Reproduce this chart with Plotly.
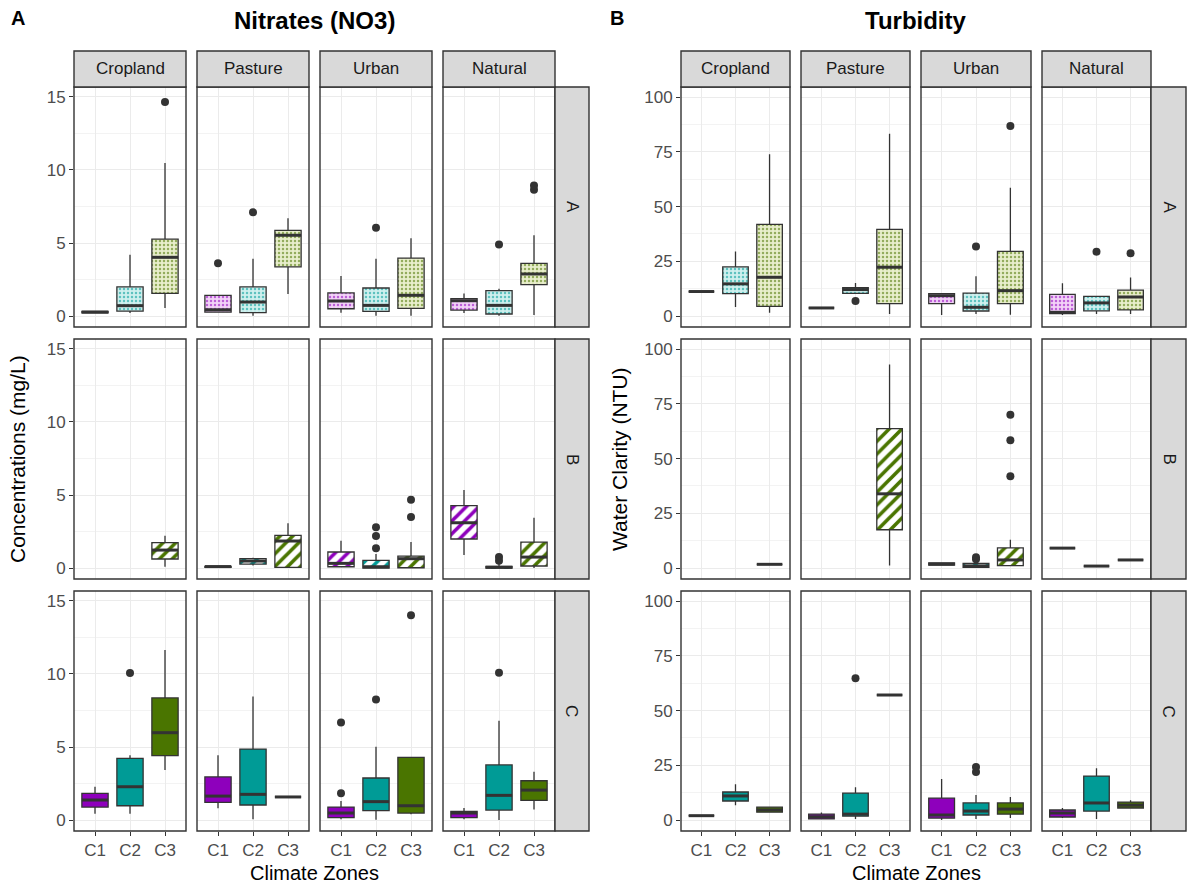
import plotly.graph_objects as go

W, H = 1188, 886
FONT = "Liberation Sans, Arial, sans-serif"

LANDUSE = ["Cropland", "Pasture", "Urban", "Natural"]
ROWS = ["A", "B", "C"]
ZONES = ["C1", "C2", "C3"]

ZONE_COLORS = ["#8E00BC", "#009B96", "#4A7500"]
PASTELS = ["#F2D3F7", "#CFF0EE", "#E8EECC"]

N = None

# ---- Nitrates (mg/L): box statistics indexed [row][land use][climate zone] ----
NO3_LO = [
    [[0.22, 0.2, 0.55], [0.27, 0.02, 1.51], [0.23, 0.02, 0.02], [0.2, 0.02, 0.07]],
    [[N, N, 0.09], [0.05, 0.18, 0.05], [0.05, 0.0, 0.0], [0.89, 0.0, 0.0]],
    [[0.43, 0.43, 3.42], [0.8, 0.05, 1.58], [0.05, 0.02, 0.39], [0.05, 0.0, 0.73]],
]
NO3_Q1 = [
    [[0.22, 0.34, 1.55], [0.27, 0.23, 3.36], [0.5, 0.32, 0.53], [0.41, 0.14, 2.15]],
    [[N, N, 0.62], [0.05, 0.27, 0.05], [0.09, 0.0, 0.02], [1.99, 0.0, 0.14]],
    [[0.89, 0.98, 4.41], [1.21, 1.03, 1.58], [0.16, 0.64, 0.48], [0.16, 0.68, 1.35]],
]
NO3_MED = [
    [[0.27, 0.71, 4.02], [0.43, 0.96, 5.53], [1.03, 0.73, 1.42], [1.05, 0.73, 2.88]],
    [[N, N, 1.23], [0.1, 0.48, 1.85], [0.32, 0.09, 0.64], [3.1, 0.05, 0.75]],
    [[1.37, 2.28, 5.98], [1.64, 1.76, 1.58], [0.48, 1.26, 0.98], [0.48, 1.69, 2.05]],
]
NO3_Q3 = [
    [[0.32, 2.0, 5.27], [1.42, 2.0, 5.87], [1.58, 1.92, 3.97], [1.19, 1.74, 3.61]],
    [[N, N, 1.74], [0.12, 0.64, 2.24], [1.1, 0.53, 0.82], [4.27, 0.12, 1.78]],
    [[1.83, 4.22, 8.36], [2.95, 4.86, 1.58], [0.89, 2.88, 4.29], [0.59, 3.77, 2.69]],
]
NO3_HI = [
    [[0.32, 4.2, 10.48], [1.42, 3.93, 6.69], [2.74, 3.93, 5.32], [1.55, 1.87, 5.53]],
    [[N, N, 2.21], [0.12, 0.71, 3.06], [1.87, 0.96, 1.78], [5.34, 0.3, 3.45]],
    [[2.28, 4.43, 11.64], [4.43, 8.45, 1.58], [1.3, 5.02, 4.29], [0.82, 6.8, 3.31]],
]
NO3_OUT = [
    [[[], [], [14.66]], [[3.61], [7.1], []], [[], [6.05], []], [[], [4.89], [8.65, 8.93]]],
    [[[], [], []], [[], [], []], [[], [1.35, 2.19, 2.79], [3.49, 4.68]], [[], [0.5, 0.75], []]],
    [[[], [10.07], []], [[], [], []], [[1.83, 6.67], [8.26], [14.02]], [[], [10.09], []]],
]

# ---- Turbidity (NTU): box statistics indexed [row][land use][climate zone] ----
NTU_LO = [
    [[11.2, 4.1, 1.5], [3.7, 10.4, 0.9], [0.5, 0.9, 0.6], [0.5, 0.9, 0.9]],
    [[N, N, 1.7], [N, N, 1.2], [1.2, 0.3, 1.1], [9.1, 0.9, 3.7]],
    [[2.0, 6.8, 3.6], [0.5, 0.5, 57.1], [0.0, 0.5, 0.9], [0.9, 0.5, 5.5]],
]
NTU_Q1 = [
    [[11.2, 10.2, 4.4], [3.7, 10.4, 5.7], [5.7, 2.3, 5.7], [1.1, 2.4, 2.8]],
    [[N, N, 1.7], [N, N, 17.5], [1.4, 0.3, 1.1], [9.1, 0.9, 3.7]],
    [[2.0, 8.7, 3.6], [0.5, 1.8, 57.1], [0.9, 2.3, 2.7], [1.4, 4.1, 5.5]],
]
NTU_MED = [
    [[11.2, 14.7, 17.7], [3.7, 12.1, 22.3], [9.3, 4.0, 11.6], [1.7, 6.0, 8.7]],
    [[N, N, 1.7], [N, N, 33.9], [1.8, 1.0, 3.7], [9.1, 0.9, 3.7]],
    [[2.0, 11.0, 4.6], [1.5, 2.7, 57.1], [2.3, 4.1, 5.0], [3.2, 7.8, 6.8]],
]
NTU_Q3 = [
    [[11.2, 22.5, 41.9], [3.7, 13.0, 39.6], [10.2, 10.5, 29.5], [9.9, 9.0, 11.8]],
    [[N, N, 1.7], [N, N, 63.7], [2.3, 2.1, 9.2], [9.1, 0.9, 3.7]],
    [[2.0, 12.8, 5.9], [2.7, 12.3, 57.1], [10.0, 7.8, 7.8], [4.6, 20.1, 8.2]],
]
NTU_HI = [
    [[11.2, 29.5, 73.9], [3.7, 15.1, 83.2], [10.2, 18.2, 58.6], [15.0, 9.0, 17.6]],
    [[N, N, 1.7], [N, N, 93.0], [2.6, 2.6, 12.9], [9.1, 0.9, 3.7]],
    [[2.0, 16.4, 5.9], [3.5, 15.0, 57.1], [18.7, 11.4, 10.5], [5.5, 23.7, 9.0]],
]
NTU_OUT = [
    [[[], [], []], [[], [6.9], []], [[], [31.8], [86.8]], [[], [29.4], [28.7]]],
    [[[], [], []], [[], [], []], [[], [4.0, 4.9], [41.9, 58.4, 70.0]], [[], [], []]],
    [[[], [], []], [[], [64.8], []], [[], [22.0, 24.2], []], [[], [], []]],
]

NO3_TICKS = [0, 5, 10, 15]
NO3_MINOR = [2.5, 7.5, 12.5]
NTU_TICKS = [0, 25, 50, 75, 100]
NTU_MINOR = [12.5, 37.5, 62.5, 87.5]

# ---- page geometry (pixels) ----
ROW_Y = [(87, 327), (339, 579), (591, 831)]
STRIP_TOP = 51
BOX_W = 0.75

halves = [
    dict(cols=[(74, 186), (197, 309), (320, 432), (443, 555)], rstrip=(555, 589),
         stats=(NO3_LO, NO3_Q1, NO3_MED, NO3_Q3, NO3_HI), out=NO3_OUT,
         yrange=[-0.75, 15.68], ticks=NO3_TICKS, minor=NO3_MINOR,
         tag="A", tag_x=18, title="Nitrates (NO3)",
         ylab="Concentrations (mg/L)", ylab_x=18),
    dict(cols=[(681, 790), (801, 910), (921, 1031), (1042, 1151)], rstrip=(1151, 1186),
         stats=(NTU_LO, NTU_Q1, NTU_MED, NTU_Q3, NTU_HI), out=NTU_OUT,
         yrange=[-5.0, 104.6], ticks=NTU_TICKS, minor=NTU_MINOR,
         tag="B", tag_x=617, title="Turbidity",
         ylab="Water Clarity (NTU)", ylab_x=620),
]


def fx(px):
    return px / W


def fy(py):
    return 1 - py / H


def label(text, x, y, size, color="black", angle=0):
    return dict(text=text, x=fx(x), y=fy(y), xref="paper", yref="paper",
                xanchor="center", yanchor="middle", showarrow=False,
                textangle=angle, font=dict(family=FONT, size=size, color=color))


fig = go.Figure()
axes = {}
shapes = []
annotations = []
DARK = "#333333"

for h, half in enumerate(halves):
    LO, Q1, MED, Q3, HI = half["stats"]
    for r in range(3):
        y0, y1 = ROW_Y[r]
        for c in range(4):
            x0, x1 = half["cols"][c]
            idx = h * 12 + r * 4 + c + 1
            xa = "x" if idx == 1 else f"x{idx}"
            ya = "y" if idx == 1 else f"y{idx}"
            axes["xaxis" if idx == 1 else f"xaxis{idx}"] = dict(
                domain=[fx(x0), fx(x1)], anchor=ya, range=[0.4, 3.6],
                tickmode="array", tickvals=[1, 2, 3], ticktext=ZONES,
                showticklabels=(r == 2), ticks="outside" if r == 2 else "",
                ticklen=4, tickwidth=1, tickcolor=DARK,
                tickfont=dict(family=FONT, size=17, color="#4D4D4D"),
                showgrid=True, gridcolor="#EBEBEB", gridwidth=1.2,
                zeroline=False, showline=False, fixedrange=True,
            )
            axes["yaxis" if idx == 1 else f"yaxis{idx}"] = dict(
                domain=[fy(y1), fy(y0)], anchor=xa, range=half["yrange"],
                tickmode="array", tickvals=half["ticks"],
                showticklabels=(c == 0), ticks="outside" if c == 0 else "",
                ticklen=4, tickwidth=1, tickcolor=DARK,
                tickfont=dict(family=FONT, size=17, color="#4D4D4D"),
                showgrid=True, gridcolor="#EBEBEB", gridwidth=1.2,
                minor=dict(tickvals=half["minor"], showgrid=True,
                           gridcolor="#F3F3F3", gridwidth=0.7),
                zeroline=False, showline=False, fixedrange=True,
            )

            for z in range(3):
                med = MED[r][c][z]
                if med is None:
                    continue
                lo, q1, q3, hi = LO[r][c][z], Q1[r][c][z], Q3[r][c][z], HI[r][c][z]
                pos = z + 1
                if r == 0:
                    marker = dict(color=PASTELS[z], line=dict(width=0),
                                  pattern=dict(shape=".", bgcolor=PASTELS[z],
                                               fgcolor=ZONE_COLORS[z], fgopacity=0.55,
                                               size=4, solidity=0.3, fillmode="replace"))
                elif r == 1:
                    marker = dict(color="white", line=dict(width=0),
                                  pattern=dict(shape="/", bgcolor="white",
                                               fgcolor=ZONE_COLORS[z], fgopacity=1,
                                               size=9, solidity=0.4, fillmode="replace"))
                else:
                    marker = dict(color=ZONE_COLORS[z], line=dict(width=0))
                # box body fill (pattern lives on a bar spanning q1..q3)
                fig.add_trace(go.Bar(
                    x=[pos], y=[q3 - q1], base=[q1], width=BOX_W, marker=marker,
                    xaxis=xa, yaxis=ya, showlegend=False, hoverinfo="skip",
                ))
                # outline and whiskers
                fig.add_trace(go.Box(
                    x=[pos], q1=[q1], median=[med], q3=[q3],
                    lowerfence=[lo], upperfence=[hi], width=BOX_W, whiskerwidth=0,
                    fillcolor="rgba(0,0,0,0)", line=dict(color=DARK, width=1.3),
                    boxpoints=False, xaxis=xa, yaxis=ya, showlegend=False,
                    hoverinfo="skip",
                ))
                # heavier median bar
                fig.add_trace(go.Scatter(
                    x=[pos - BOX_W / 2, pos + BOX_W / 2], y=[med, med], mode="lines",
                    line=dict(color=DARK, width=3), xaxis=xa, yaxis=ya,
                    showlegend=False, hoverinfo="skip",
                ))
                outs = half["out"][r][c][z]
                if outs:
                    fig.add_trace(go.Scatter(
                        x=[pos] * len(outs), y=outs, mode="markers",
                        marker=dict(color=DARK, size=8), xaxis=xa, yaxis=ya,
                        showlegend=False, hoverinfo="skip",
                    ))

            # panel border
            shapes.append(dict(type="rect", xref="paper", yref="paper",
                               x0=fx(x0), x1=fx(x1), y0=fy(y1), y1=fy(y0),
                               line=dict(color=DARK, width=1.4),
                               fillcolor="rgba(0,0,0,0)", layer="above"))

        # row strip on the right
        sx0, sx1 = half["rstrip"]
        shapes.append(dict(type="rect", xref="paper", yref="paper",
                           x0=fx(sx0), x1=fx(sx1), y0=fy(y1), y1=fy(y0),
                           line=dict(color=DARK, width=1.4), fillcolor="#D9D9D9",
                           layer="above"))
        annotations.append(label(ROWS[r], (sx0 + sx1) / 2, (y0 + y1) / 2, 17,
                                 "#1A1A1A", angle=90))

    # column strips on top
    for c in range(4):
        x0, x1 = half["cols"][c]
        shapes.append(dict(type="rect", xref="paper", yref="paper",
                           x0=fx(x0), x1=fx(x1), y0=fy(ROW_Y[0][0]), y1=fy(STRIP_TOP),
                           line=dict(color=DARK, width=1.4), fillcolor="#D9D9D9",
                           layer="above"))
        annotations.append(label(LANDUSE[c], (x0 + x1) / 2, (STRIP_TOP + ROW_Y[0][0]) / 2,
                                 17, "#1A1A1A"))

    cols = half["cols"]
    mid_x = (cols[0][0] + cols[3][1]) / 2
    annotations.append(label(f"<b>{half['tag']}</b>", half["tag_x"], 18, 20))
    annotations.append(label(f"<b>{half['title']}</b>", mid_x, 21, 24))
    annotations.append(label(half["ylab"], half["ylab_x"], (ROW_Y[0][0] + ROW_Y[2][1]) / 2,
                             21, angle=-90))
    annotations.append(label("Climate Zones", mid_x, 873, 20))

fig.update_layout(
    width=W, height=H, margin=dict(l=0, r=0, t=0, b=0),
    paper_bgcolor="white", plot_bgcolor="white",
    barmode="overlay", boxmode="overlay", showlegend=False,
    shapes=shapes, annotations=annotations,
    font=dict(family=FONT),
    **axes,
)

fig.write_html("out.html")
